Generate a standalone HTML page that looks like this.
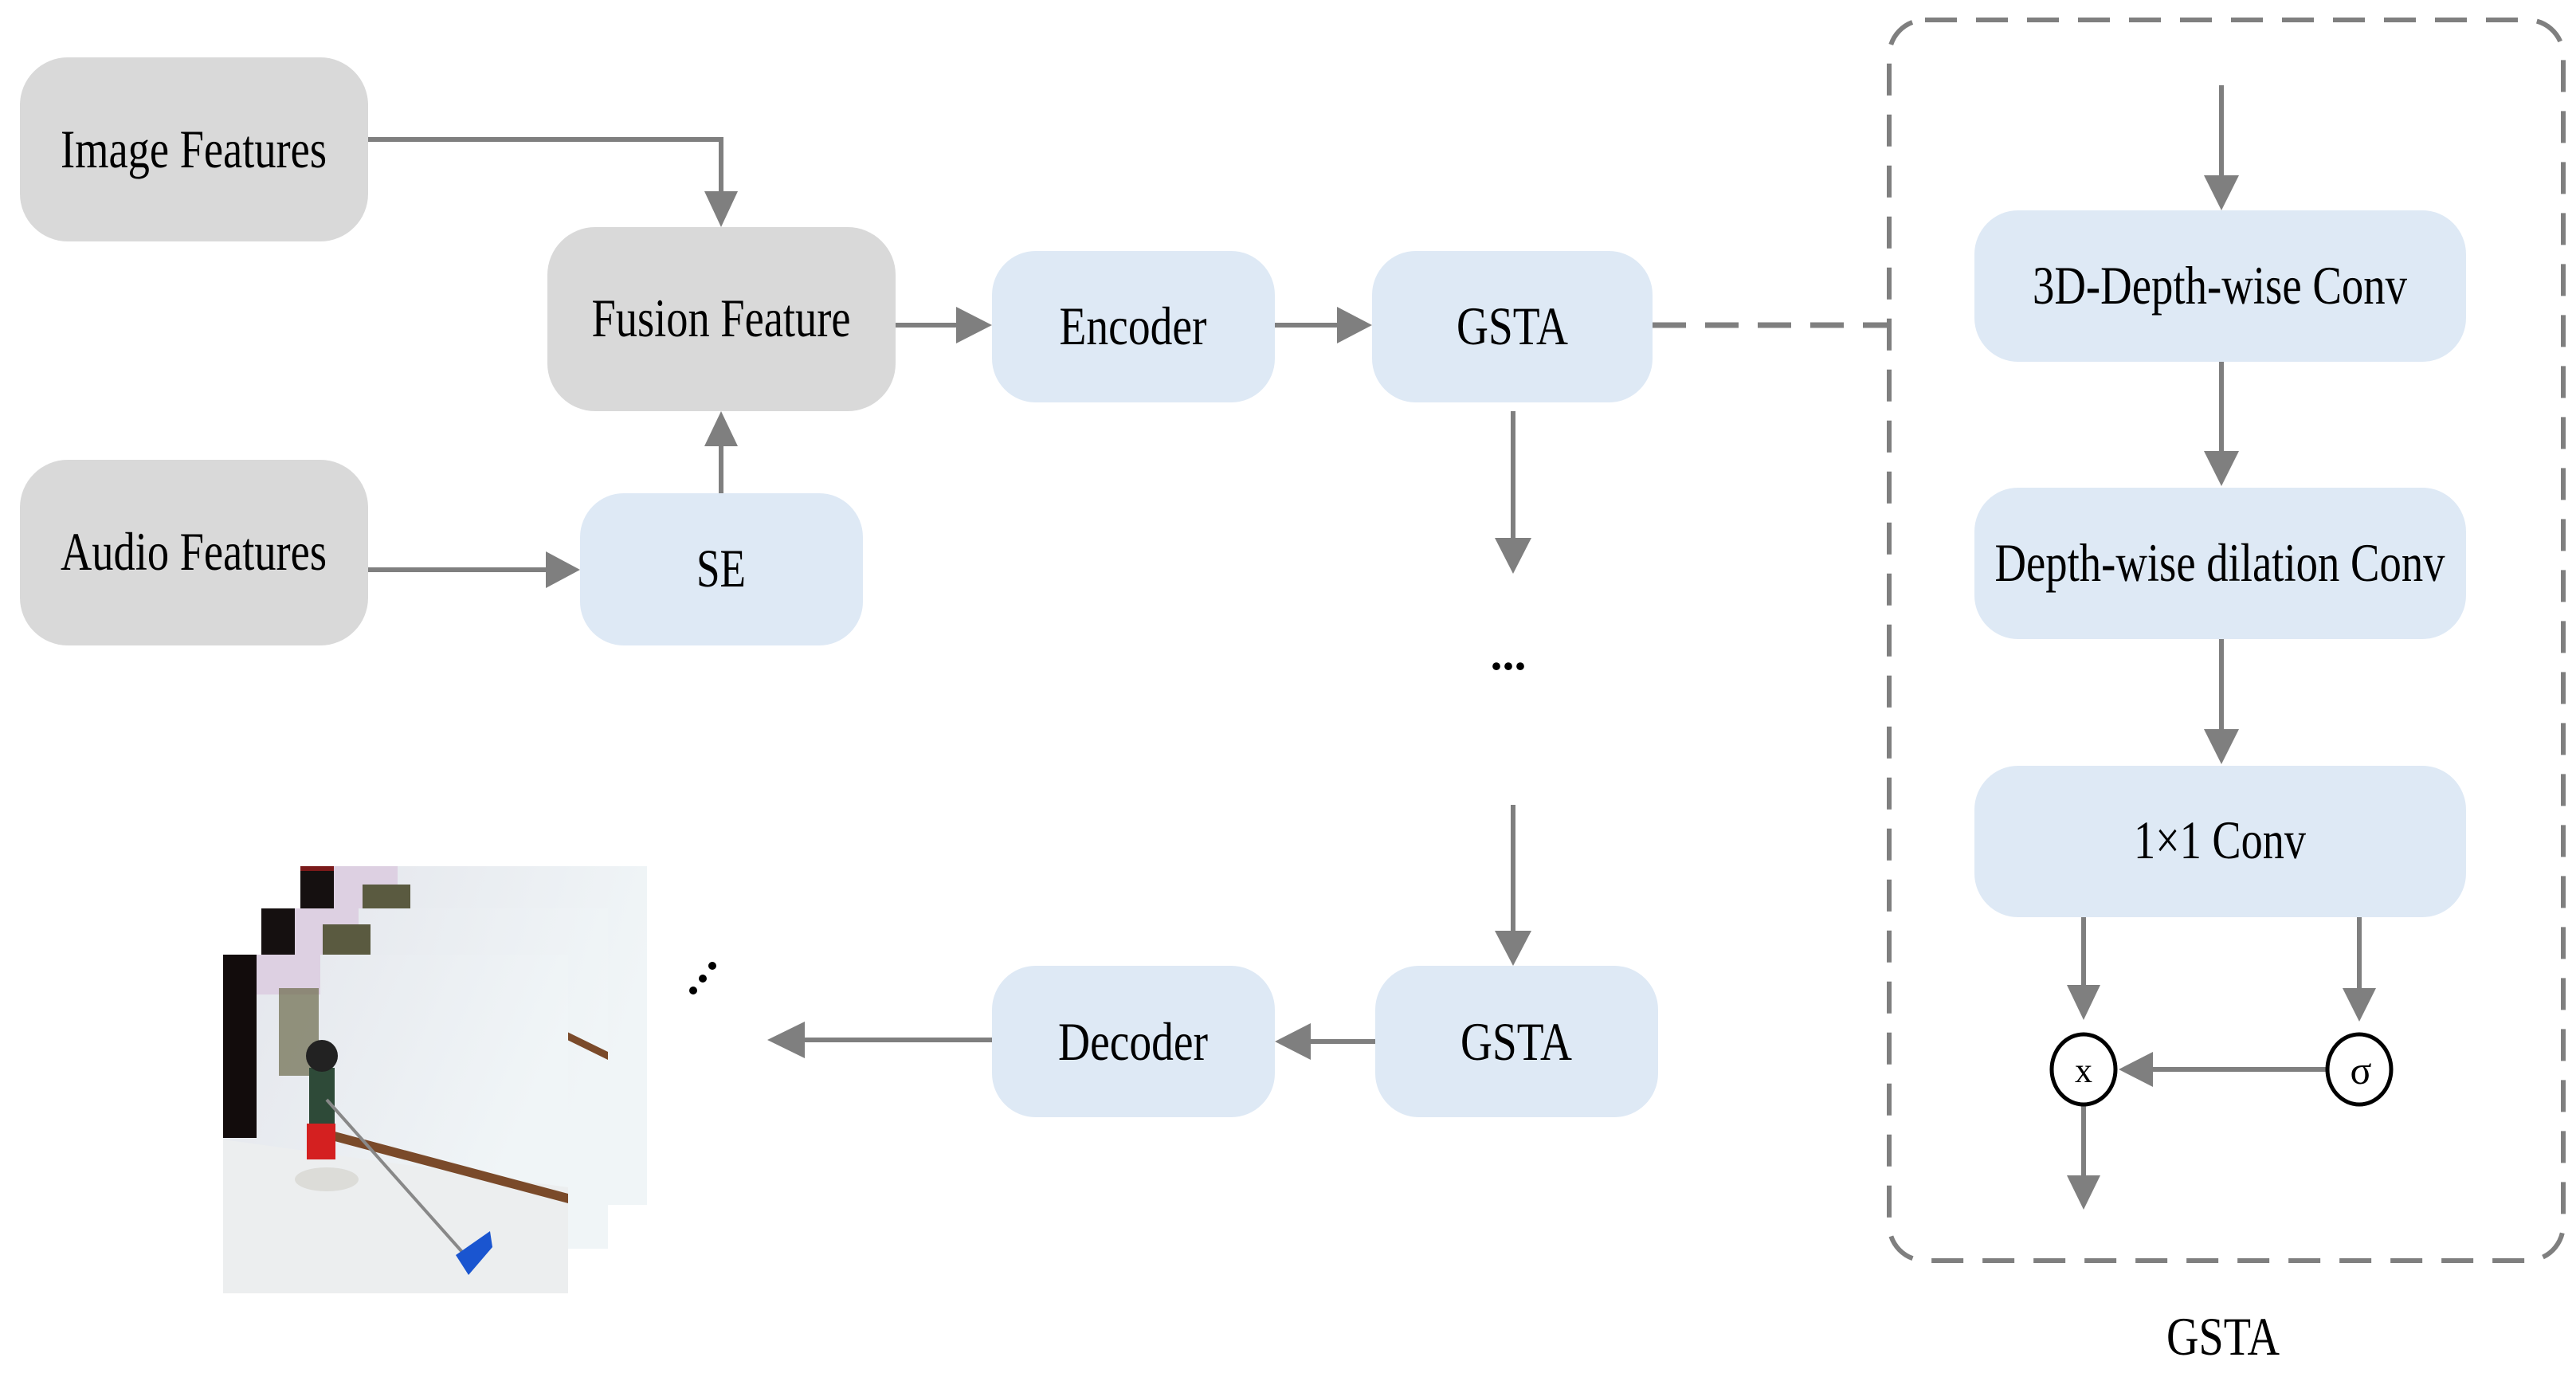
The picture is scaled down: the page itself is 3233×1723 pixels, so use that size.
<!DOCTYPE html>
<html><head><meta charset="utf-8"><style>
html,body{margin:0;padding:0;background:#fff;}
svg{display:block;}
text{font-family:"Liberation Serif",serif;fill:#000;}
</style></head><body>
<svg width="3233" height="1723" viewBox="0 0 3233 1723" xmlns="http://www.w3.org/2000/svg">
<defs>
<linearGradient id="wall" x1="0" y1="0" x2="1" y2="0.3">
<stop offset="0" stop-color="#e4e6ec"/><stop offset="1" stop-color="#f0f5f7"/>
</linearGradient>
<clipPath id="c1"><rect x="377" y="1087" width="435" height="425"/></clipPath>
<clipPath id="c2"><rect x="328" y="1140" width="435" height="427"/></clipPath>
<clipPath id="c3"><rect x="280" y="1198" width="433" height="425"/></clipPath>
</defs>
<g fill="none" stroke="#7f7f7f" stroke-width="6">
<polyline points="462,175 905,175 905,240"/>
<line x1="905" y1="619" x2="905" y2="560"/>
<line x1="462" y1="715" x2="685" y2="715"/>
<line x1="1124" y1="408" x2="1200" y2="408"/>
<line x1="1600" y1="408" x2="1678" y2="408"/>
<line x1="1899" y1="516" x2="1899" y2="675"/>
<line x1="1899" y1="1010" x2="1899" y2="1168"/>
<line x1="1726" y1="1307" x2="1645" y2="1307"/>
<line x1="1245" y1="1305" x2="1010" y2="1305"/>
<line x1="2074" y1="408" x2="2371" y2="408" stroke-dasharray="42,24" stroke-width="7"/>
<line x1="2788" y1="107" x2="2788" y2="220"/>
<line x1="2788" y1="454" x2="2788" y2="566"/>
<line x1="2788" y1="802" x2="2788" y2="915"/>
<line x1="2615" y1="1151" x2="2615" y2="1236"/>
<line x1="2961" y1="1151" x2="2961" y2="1240"/>
<line x1="2920" y1="1342" x2="2702" y2="1342"/>
<line x1="2615" y1="1384" x2="2615" y2="1475"/>
<rect x="2371" y="25" width="846" height="1557" rx="45" stroke-dasharray="40,24" stroke-width="6"/>
</g>
<g fill="#7f7f7f">
<polygon points="884,240 926,240 905,285"/>
<polygon points="884,560 926,560 905,516"/>
<polygon points="685,692 685,738 728,715"/>
<polygon points="1200,385 1200,431 1245,408"/>
<polygon points="1678,385 1678,431 1722,408"/>
<polygon points="1876,675 1922,675 1899,720"/>
<polygon points="1876,1168 1922,1168 1899,1212"/>
<polygon points="1645,1284 1645,1330 1600,1307"/>
<polygon points="1010,1282 1010,1328 963,1305"/>
<polygon points="2766,220 2810,220 2788,264"/>
<polygon points="2766,566 2810,566 2788,610"/>
<polygon points="2766,915 2810,915 2788,959"/>
<polygon points="2594,1236 2636,1236 2615,1280"/>
<polygon points="2940,1240 2982,1240 2961,1282"/>
<polygon points="2702,1320 2702,1364 2659,1342"/>
<polygon points="2594,1475 2636,1475 2615,1518"/>
</g>
<g>
<rect x="25" y="72" width="437" height="231" rx="60" fill="#d9d9d9"/>
<rect x="687" y="285" width="437" height="231" rx="60" fill="#d9d9d9"/>
<rect x="25" y="577" width="437" height="233" rx="60" fill="#d9d9d9"/>
<rect x="728" y="619" width="355" height="191" rx="55" fill="#dee9f5"/>
<rect x="1245" y="315" width="355" height="190" rx="55" fill="#dee9f5"/>
<rect x="1722" y="315" width="352" height="190" rx="55" fill="#dee9f5"/>
<rect x="1726" y="1212" width="355" height="190" rx="55" fill="#dee9f5"/>
<rect x="1245" y="1212" width="355" height="190" rx="55" fill="#dee9f5"/>
<rect x="2478" y="264" width="617" height="190" rx="55" fill="#dee9f5"/>
<rect x="2478" y="612" width="617" height="190" rx="55" fill="#dee9f5"/>
<rect x="2478" y="961" width="617" height="190" rx="55" fill="#dee9f5"/>
</g>
<g font-size="68" text-anchor="middle">
<text x="243" y="210" textLength="334" lengthAdjust="spacingAndGlyphs">Image Features</text>
<text x="905" y="422" textLength="325" lengthAdjust="spacingAndGlyphs">Fusion Feature</text>
<text x="243" y="715" textLength="334" lengthAdjust="spacingAndGlyphs">Audio Features</text>
<text x="905" y="736" textLength="62" lengthAdjust="spacingAndGlyphs">SE</text>
<text x="1422" y="432" textLength="185" lengthAdjust="spacingAndGlyphs">Encoder</text>
<text x="1898" y="432" textLength="140" lengthAdjust="spacingAndGlyphs">GSTA</text>
<text x="1903" y="1330" textLength="140" lengthAdjust="spacingAndGlyphs">GSTA</text>
<text x="1422" y="1330" textLength="188" lengthAdjust="spacingAndGlyphs">Decoder</text>
<text x="2786" y="381" textLength="470" lengthAdjust="spacingAndGlyphs">3D-Depth-wise Conv</text>
<text x="2786" y="729" textLength="565" lengthAdjust="spacingAndGlyphs">Depth-wise dilation Conv</text>
<text x="2786" y="1077" textLength="216" lengthAdjust="spacingAndGlyphs">1×1 Conv</text>
<text x="2790" y="1700" textLength="142" lengthAdjust="spacingAndGlyphs">GSTA</text>
</g>
<text x="1893" y="840" font-size="60" text-anchor="middle" font-weight="bold">...</text>
<g fill="#fff" stroke="#000" stroke-width="5">
<ellipse cx="2615" cy="1342" rx="40" ry="44"/>
<ellipse cx="2961" cy="1342" rx="40" ry="44"/>
</g>
<text x="2615" y="1358" font-size="44" text-anchor="middle" font-family="Liberation Sans">x</text>
<text x="2963" y="1360" font-size="50" text-anchor="middle">σ</text>
<g fill="#000"><circle cx="870" cy="1243" r="5"/><circle cx="882" cy="1228" r="5"/><circle cx="894" cy="1212" r="5"/></g>
<g clip-path="url(#c1)">
<rect x="377" y="1087" width="435" height="425" fill="url(#wall)"/>
<rect x="377" y="1087" width="42" height="60" fill="#151010"/>
<rect x="419" y="1087" width="80" height="60" fill="#ddd0e2"/>
<rect x="455" y="1110" width="60" height="37" fill="#5a5a40"/>
<rect x="377" y="1087" width="42" height="6" fill="#7a1a1a"/>
</g>
<g clip-path="url(#c2)">
<rect x="328" y="1140" width="435" height="427" fill="url(#wall)"/>
<rect x="328" y="1140" width="42" height="58" fill="#151010"/>
<rect x="370" y="1140" width="80" height="58" fill="#ddd0e2"/>
<rect x="405" y="1160" width="60" height="38" fill="#5a5a40"/>
<polygon points="712,1295 763,1320 763,1330 712,1305" fill="#7a4a2a"/>
</g>
<g clip-path="url(#c3)">
<rect x="280" y="1198" width="433" height="425" fill="#eceeef"/>
<polygon points="280,1198 713,1198 713,1490 280,1430" fill="url(#wall)"/>
<rect x="280" y="1198" width="42" height="230" fill="#120c0c"/>
<rect x="322" y="1198" width="80" height="50" fill="#ddd0e2"/>
<rect x="350" y="1240" width="50" height="110" fill="#6b6a4a" opacity="0.7"/>
<polygon points="420,1420 713,1498 713,1510 420,1432" fill="#7a4a2a"/>
<rect x="388" y="1340" width="32" height="70" fill="#2e4a38"/>
<circle cx="404" cy="1325" r="20" fill="#222"/>
<rect x="385" y="1410" width="36" height="45" fill="#d42020"/>
<ellipse cx="410" cy="1480" rx="40" ry="15" fill="#dcdcd8"/>
<line x1="410" y1="1380" x2="588" y2="1580" stroke="#888" stroke-width="4"/>
<polygon points="572,1575 615,1545 618,1565 588,1600" fill="#1a55d0"/>
</g>
</svg>
</body></html>
